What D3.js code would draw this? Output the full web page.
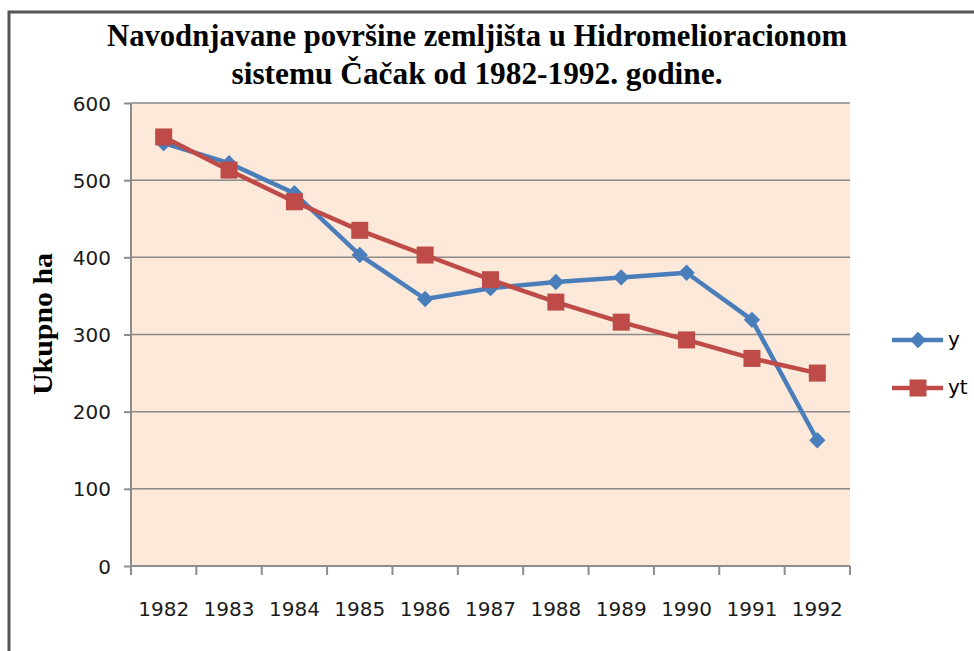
<!DOCTYPE html>
<html>
<head>
<meta charset="utf-8">
<script src="https://cdn.jsdelivr.net/npm/d3@7/dist/d3.min.js"></script>
<style>
  body { margin: 0; background: #fff; }
  svg { display: block; }
  .axis path, .axis line { stroke: #8c8c8c; stroke-width: 2px; }
  .axis text { font-family: "DejaVu Sans", sans-serif; font-size: 20px; fill: #1a1a1a; }
  .grid line { stroke: #8a8a8a; stroke-width: 1.5px; }
</style>
</head>
<body>
<div id="chart"></div>
<script>
var years = ["1982","1983","1984","1985","1986","1987","1988","1989","1990","1991","1992"];
var yValues = [548, 522, 483, 403, 346, 360, 368, 374, 380, 319, 163];
var ytValues = [556, 513, 472, 435, 403, 371, 342, 316, 293, 269, 250];
var yTicks = [0, 100, 200, 300, 400, 500, 600];
var seriesNames = ["y", "yt"];
var titleLines = ["Navodnjavane površine zemljišta u Hidromelioracionom", "sistemu Čačak od 1982-1992. godine."];

var W = 974, H = 651;
var margin = {top: 103, left: 131, right: 124, bottom: 85};
var width = W - margin.left - margin.right,
    height = H - margin.top - margin.bottom;

var svg = d3.select("#chart").append("svg")
    .attr("width", W)
    .attr("height", H);

// outer frame (runs off the right and bottom edge)
svg.append("rect")
    .attr("x", 9).attr("y", 12)
    .attr("width", W + 20).attr("height", H + 20)
    .attr("fill", "#fff")
    .attr("stroke", "#555")
    .attr("stroke-width", 3);

var x = d3.scaleBand().domain(years).range([0, width]);
var y = d3.scaleLinear().domain([0, 600]).range([height, 0]);

var g = svg.append("g")
    .attr("transform", "translate(" + margin.left + "," + margin.top + ")");

g.append("rect")
    .attr("width", width).attr("height", height)
    .attr("fill", "#fde9da");

g.append("g").attr("class", "grid")
  .selectAll("line")
  .data(yTicks.filter(function(d) { return d > 0; }))
  .enter().append("line")
    .attr("x1", 0).attr("x2", width)
    .attr("y1", function(d) { return y(d); })
    .attr("y2", function(d) { return y(d); });

// x axis: ticks on band edges, labels centred in bands
var xAxisG = g.append("g").attr("class", "axis")
    .attr("transform", "translate(0," + height + ")");
xAxisG.append("line").attr("x1", 0).attr("x2", width);
xAxisG.selectAll(".tk")
  .data(d3.range(years.length + 1))
  .enter().append("line").attr("class", "tk")
    .attr("x1", function(i) { return i * x.step(); })
    .attr("x2", function(i) { return i * x.step(); })
    .attr("y1", 0).attr("y2", 9);
xAxisG.selectAll("text")
  .data(years)
  .enter().append("text")
    .attr("x", function(d) { return x(d) + x.bandwidth() / 2; })
    .attr("y", 50)
    .attr("text-anchor", "middle")
    .text(function(d) { return d; });

var yAxis = d3.axisLeft(y).tickValues(yTicks).tickSize(7).tickPadding(13);
g.append("g").attr("class", "axis").call(yAxis)
  .call(function(s) { s.select(".domain").attr("d", "M0," + (height + 9) + "V0"); })
  .selectAll("text").attr("dy", "0.35em");

var line = d3.line()
    .x(function(d, i) { return x(years[i]) + x.bandwidth() / 2; })
    .y(function(d) { return y(d); });

var blue = "#4a7ebb", red = "#be4b48";

g.append("path").datum(yValues)
    .attr("d", line).attr("fill", "none")
    .attr("stroke", blue).attr("stroke-width", 4.5).attr("stroke-linejoin", "round");
g.append("path").datum(ytValues)
    .attr("d", line).attr("fill", "none")
    .attr("stroke", red).attr("stroke-width", 4.5).attr("stroke-linejoin", "round");

var diamond = d3.symbol().type(d3.symbolDiamond2).size(170);

g.selectAll(".dm").data(yValues).enter().append("path").attr("class", "dm")
    .attr("d", diamond)
    .attr("transform", function(d, i) { return "translate(" + (x(years[i]) + x.bandwidth() / 2) + "," + y(d) + ")"; })
    .attr("fill", blue);

g.selectAll(".sq").data(ytValues).enter().append("rect").attr("class", "sq")
    .attr("x", function(d, i) { return x(years[i]) + x.bandwidth() / 2 - 8.5; })
    .attr("y", function(d) { return y(d) - 8.5; })
    .attr("width", 17).attr("height", 17)
    .attr("fill", red);

// title
svg.selectAll(".title").data(titleLines).enter().append("text")
    .attr("class", "title")
    .attr("x", 477)
    .attr("y", function(d, i) { return 46 + i * 38; })
    .attr("text-anchor", "middle")
    .attr("textLength", function(d, i) { return i === 0 ? 740 : 491; })
    .attr("lengthAdjust", "spacingAndGlyphs")
    .style("font-family", "'Liberation Serif', 'Times New Roman', serif")
    .style("font-weight", "bold")
    .style("font-size", "31px")
    .text(function(d) { return d; });

svg.append("text")
    .attr("transform", "translate(52,324) rotate(-90)")
    .attr("text-anchor", "middle")
    .attr("textLength", 142)
    .attr("lengthAdjust", "spacingAndGlyphs")
    .style("font-family", "'Liberation Serif', 'Times New Roman', serif")
    .style("font-weight", "bold")
    .style("font-size", "28px")
    .text("Ukupno ha");

// legend
var legend = svg.selectAll(".legend")
  .data(seriesNames)
  .enter().append("g").attr("class", "legend")
    .attr("transform", function(d, i) { return "translate(892," + (340 + i * 48) + ")"; });
legend.append("line")
    .attr("x1", 0).attr("x2", 51)
    .attr("stroke", function(d, i) { return i === 0 ? blue : red; })
    .attr("stroke-width", 4.5);
legend.append("path")
    .attr("d", function(d, i) { return i === 0 ? diamond() : "M-8.5,-8.5H8.5V8.5H-8.5Z"; })
    .attr("transform", "translate(26,0)")
    .attr("fill", function(d, i) { return i === 0 ? blue : red; });
legend.append("text")
    .attr("x", 56).attr("dy", "0.3em")
    .style("font-family", "'DejaVu Sans', sans-serif")
    .style("font-size", "20px")
    .text(function(d) { return d; });
</script>
</body>
</html>
